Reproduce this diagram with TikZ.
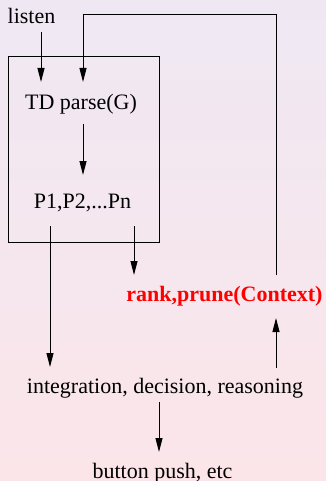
\documentclass[tikz,border=0pt]{standalone}
\usepackage{fontspec}
\setmainfont{Liberation Serif}
\usetikzlibrary{arrows.meta}
\definecolor{bgtop}{RGB}{239,232,243}
\definecolor{bgbot}{RGB}{251,229,233}
\definecolor{ctxred}{RGB}{255,0,0}
\tikzset{
  lbl/.style={anchor=base, inner sep=0pt, font=\fontsize{22}{26}\selectfont},
  redlbl/.style={lbl, text=ctxred, font=\fontsize{22}{26}\selectfont\bfseries},
  arr/.style={line width=1pt, -{Triangle[length=14pt,width=7pt]}},
  ln/.style={line width=1pt},
  frame/.style={draw, line width=1pt, minimum width=151pt, minimum height=185pt, inner sep=0pt}
}
\begin{document}
\begin{tikzpicture}[x=1pt,y=-1pt]
\useasboundingbox (0,0) rectangle (326,481);
\shade[top color=bgtop, bottom color=bgbot] (0,0) rectangle (326,481);

\node[lbl] (listen) at (31.5,24) {listen};
\node[frame] (box) at (83.5,149.5) {};
\node[lbl] (tdp) at (81,110) {TD parse(G)};
\node[lbl] (pn) at (82.5,208) {P1,P2,...Pn};
\node[redlbl] (rank) at (224.5,301) {rank,prune(Context)};
\node[lbl] (integ) at (165,393) {integration, decision, reasoning};
\node[lbl] (button) at (162.5,478) {button push, etc};

\coordinate (l1) at (41,32);  \coordinate (l2) at (41,82);
\coordinate (f0) at (276,275); \coordinate (f1) at (276,15);
\coordinate (f2) at (83,15);  \coordinate (f3) at (83,82);
\coordinate (t1) at (83,124); \coordinate (t2) at (83,175);
\coordinate (p1) at (50,226); \coordinate (p2) at (50,367);
\coordinate (q1) at (134,226); \coordinate (q2) at (134,275);
\coordinate (u1) at (276,368); \coordinate (u2) at (276,318);
\coordinate (b1) at (159,402); \coordinate (b2) at (159,452);

\draw[arr] (l1) -- (l2);
\draw[arr] (f0) -- (f1) -- (f2) -- (f3);
\draw[arr] (t1) -- (t2);
\draw[arr] (p1) -- (p2);
\draw[arr] (q1) -- (q2);
\draw[arr] (u1) -- (u2);
\draw[arr] (b1) -- (b2);
\end{tikzpicture}
\end{document}
